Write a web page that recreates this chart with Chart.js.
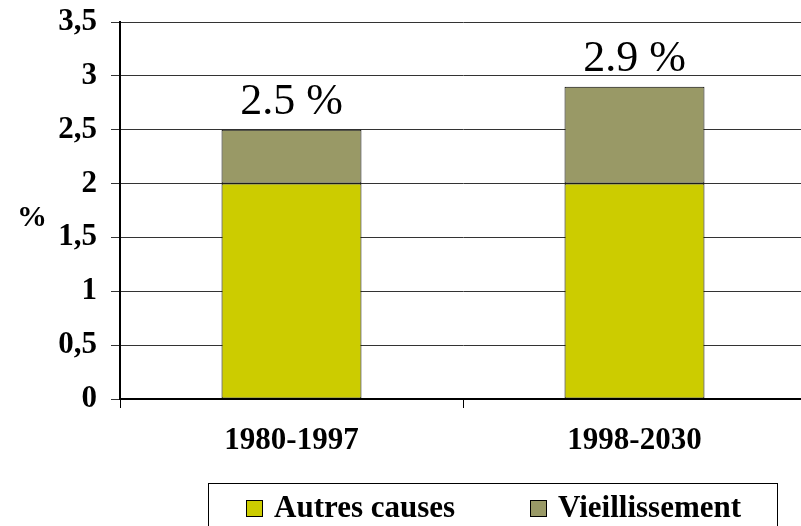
<!DOCTYPE html>
<html>
<head>
<meta charset="utf-8">
<script src="https://cdn.jsdelivr.net/npm/chart.js@4"></script>
<style>
  html, body { margin: 0; padding: 0; background: #fff; overflow: hidden; width: 801px; height: 526px; }
  #wrap { width: 810px; height: 526px; }
</style>
</head>
<body>
<div id="wrap"><canvas id="c" width="810" height="526"></canvas></div>
<script>
const categories = ['1980-1997', '1998-2030'];
const autresCauses = [2.0, 2.0];
const vieillissement = [0.5, 0.9];
const totalLabels = ['2.5 %', '2.9 %'];
const yTicks = [0, 0.5, 1, 1.5, 2, 2.5, 3, 3.5];
const yTitle = '%';

const SERIF = "'Liberation Serif', 'Times New Roman', serif";

const totalsPlugin = {
  id: 'totals',
  afterDatasetsDraw(chart) {
    const ctx = chart.ctx;
    const meta = chart.getDatasetMeta(chart.data.datasets.length - 1);
    ctx.save();
    ctx.font = "44px " + SERIF;
    ctx.fillStyle = '#000';
    ctx.textAlign = 'center';
    ctx.textBaseline = 'alphabetic';
    meta.data.forEach((bar, i) => {
      ctx.fillText(totalLabels[i], bar.x, bar.y - 16);
    });
    ctx.restore();
  }
};

const extrasPlugin = {
  id: 'extras',
  afterDraw(chart) {
    const ctx = chart.ctx;
    ctx.save();
    ctx.font = "bold 30px " + SERIF;
    ctx.fillStyle = '#000';
    ctx.textAlign = 'center';
    ctx.textBaseline = 'middle';
    ctx.fillText(yTitle, 32, 218);
    ctx.strokeStyle = '#000';
    ctx.lineWidth = 1;
    ctx.strokeRect(208.5, 483.5, 569, 80);
    const items = chart.data.datasets.map(d => ({ label: d.label, color: d.backgroundColor }));
    const xs = [246, 530];
    ctx.font = "bold 31px " + SERIF;
    ctx.textAlign = 'left';
    ctx.textBaseline = 'alphabetic';
    items.forEach((it, i) => {
      ctx.fillStyle = it.color;
      ctx.fillRect(xs[i], 500, 17, 17);
      ctx.strokeStyle = '#000';
      ctx.strokeRect(xs[i] + 0.5, 500.5, 16, 16);
      ctx.fillStyle = '#000';
      ctx.fillText(it.label, xs[i] + 28, 517);
    });
    ctx.restore();
  }
};

new Chart(document.getElementById('c'), {
  type: 'bar',
  data: {
    labels: categories,
    datasets: [
      { label: 'Autres causes', data: autresCauses, backgroundColor: '#CCCC00', borderColor: '#000', borderWidth: 1, borderSkipped: false },
      { label: 'Vieillissement', data: vieillissement, backgroundColor: '#999966', borderColor: '#000', borderWidth: 1, borderSkipped: false }
    ]
  },
  options: {
    responsive: false,
    animation: false,
    layout: { padding: { top: 22, right: 4, bottom: 0, left: 0 } },
    plugins: { legend: { display: false }, tooltip: { enabled: false } },
    datasets: { bar: { categoryPercentage: 1.0, barPercentage: 0.408 } },
    scales: {
      x: {
        stacked: true,
        afterFit(s) { s.height = 127; s.paddingLeft = 0; s.paddingRight = 0; },
        grid: { drawOnChartArea: false, drawTicks: true, tickLength: 9, color: '#000', offset: true },
        border: { display: true, color: '#000', width: 2 },
        ticks: { color: '#000', font: { family: SERIF, weight: 'bold', size: 31 }, padding: 14, maxRotation: 0 }
      },
      y: {
        stacked: true,
        min: 0, max: 3.5,
        afterFit(s) { s.width = 120; s.paddingTop = 0; s.paddingBottom = 0; },
        afterBuildTicks(s) { s.ticks = yTicks.map(v => ({ value: v })); },
        grid: { color: '#333', lineWidth: 1, drawTicks: true, tickLength: 9 },
        border: { display: true, color: '#000', width: 2 },
        ticks: {
          color: '#000', padding: 14,
          font: { family: SERIF, weight: 'bold', size: 31 },
          callback: v => String(v).replace('.', ',')
        }
      }
    }
  },
  plugins: [totalsPlugin, extrasPlugin]
});
</script>
</body>
</html>
